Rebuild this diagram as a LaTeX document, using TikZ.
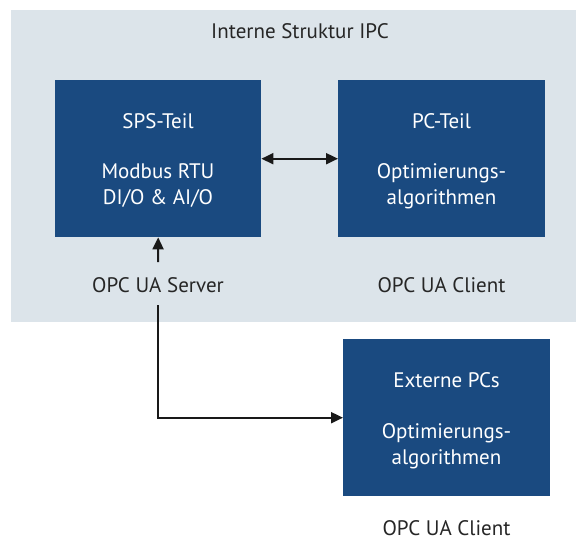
\documentclass[tikz,border=0pt]{standalone}
\usepackage{fontspec}
\setmainfont{PT Sans}
\usetikzlibrary{arrows.meta}
\definecolor{panelgray}{HTML}{DCE4EA}
\definecolor{boxblue}{HTML}{1A4A80}
\begin{document}
\begin{tikzpicture}[x=1pt,y=-1pt,
  font=\fontsize{21}{26}\selectfont,
  panel/.style={fill=panelgray, draw=none, anchor=north west, inner sep=0pt},
  blockbox/.style={fill=boxblue, draw=none, anchor=north west, inner sep=0pt,
    minimum width=206pt, minimum height=157pt},
  intext/.style={text=white, anchor=base, inner sep=0pt},
  outtext/.style={text=black!85, anchor=base, inner sep=0pt},
  conn/.style={line width=2pt, black!90},
  tip/.tip={Triangle[length=12pt,width=11pt]}]
\useasboundingbox (0,0) rectangle (576,542);

% grey panel for the IPC
\node[panel, minimum width=565pt, minimum height=312pt] (ipc) at (11,10) {};
\node[outtext] (ipctitle) at (300,38) {Interne Struktur IPC};

% blocks
\node[blockbox] (sps) at (55,80) {};
\node[blockbox, minimum width=207pt] (pc) at (338,80) {};
\node[blockbox, minimum width=207pt] (ext) at (343,339) {};

% texts in the SPS block
\node[intext] (spsA) at (158,128) {SPS-Teil};
\node[intext] (spsB) at (158,178) {Modbus RTU};
\node[intext] (spsC) at (158,204) {DI/O \& AI/O};

% texts in the PC block
\node[intext] (pcA) at (441.5,128) {PC-Teil};
\node[intext] (pcB) at (441.5,178) {Optimierungs-};
\node[intext] (pcC) at (441.5,204) {algorithmen};

% texts in the external block
\node[intext] (extA) at (446.5,387) {Externe PCs};
\node[intext] (extB) at (446.5,438) {Optimierungs-};
\node[intext] (extC) at (446.5,464) {algorithmen};

% protocol labels
\node[outtext] (server) at (158,292) {OPC UA Server};
\node[outtext] (client) at (441.5,292) {OPC UA Client};
\node[outtext] (extclient) at (446.5,535) {OPC UA Client};

% connectors
\coordinate (srvtop) at (158,262);
\coordinate (srvbot) at (158,305);
\draw[conn, tip-tip] (sps.east) -- (pc.west);
\draw[conn, -tip] (srvtop) -- (sps.south);
\draw[conn, -tip] (srvbot) |- (ext.west);
\end{tikzpicture}
\end{document}
